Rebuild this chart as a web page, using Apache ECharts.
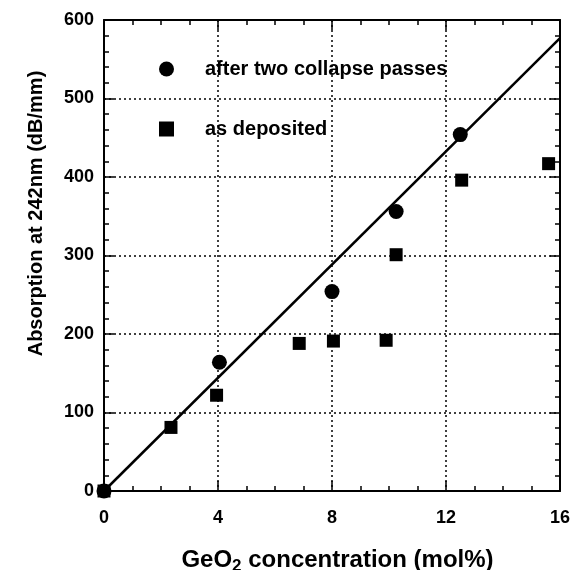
<!DOCTYPE html>
<html>
<head>
<meta charset="utf-8">
<title>Absorption vs GeO2</title>
<script src="https://cdn.jsdelivr.net/npm/echarts@6/dist/echarts.min.js"></script>
<style>
  html, body { margin: 0; padding: 0; background: #fff; }
  #chart { width: 585px; height: 570px; }
</style>
</head>
<body>
<div id="chart"></div>
<script>
// 数据
const xTicks = [0, 4, 8, 12, 16];
const yTicks = [0, 100, 200, 300, 400, 500, 600];

// after two collapse passes
const collapsedConc = [0, 4.05, 8.0, 10.25, 12.5];
const collapsedAbs = [0, 164, 254, 356, 454];

// as deposited
const depositedConc = [0, 2.35, 3.95, 6.85, 8.05, 9.9, 10.25, 12.55, 15.6];
const depositedAbs = [0, 81, 122, 188, 191, 192, 301, 396, 417];

// fitted line
const fitConc = [0, 16];
const fitAbs = [0, 577];

const pairs = (xs, ys) => xs.map((x, i) => [x, ys[i]]);

const FONT = "Liberation Sans";
const black = "#000";

const chart = echarts.init(document.getElementById("chart"), null, { renderer: "canvas" });

// 公共轴样式
const axisBase = {
  axisLine: { show: true, onZero: false, lineStyle: { color: black, width: 2 } },
  axisTick: { show: true, inside: true, length: 10, lineStyle: { color: black, width: 1.5 } },
  minorTick: { show: true, length: 5, lineStyle: { color: black, width: 1.5 } },
};

const option = {
  backgroundColor: "#fff",
  animation: false,
  // v6: 不要自动收缩网格
  grid: { left: 104, right: 25, top: 20, bottom: 79, outerBoundsMode: "none" },
  legend: {
    orient: "vertical",
    left: 154,
    top: 54,
    itemGap: 40,
    itemWidth: 15,
    itemHeight: 15,
    textStyle: {
      fontFamily: FONT,
      fontWeight: "bold",
      fontSize: 20,
      lineHeight: 20,
      color: black,
      padding: [0, 0, 0, 26],
    },
    data: [
      { name: "after two collapse passes", icon: "circle" },
      { name: "as deposited", icon: "rect" },
    ],
  },
  xAxis: [
    {
      ...axisBase,
      type: "value",
      position: "bottom",
      min: xTicks[0],
      max: xTicks[xTicks.length - 1],
      interval: 4,
      minorTick: { ...axisBase.minorTick, splitNumber: 4 },
      splitLine: { show: true, lineStyle: { color: black, type: [2, 3], width: 1.5 } },
      axisLabel: {
        margin: 18,
        color: black,
        fontFamily: FONT,
        fontWeight: "bold",
        fontSize: 18,
      },
      name: "{a|GeO}{s|2}{a| concentration (mol%)}",
      nameLocation: "middle",
      nameGap: 55,
      nameTextStyle: {
        color: black,
        padding: [0, 0, 0, 11],
        rich: {
          a: { fontFamily: FONT, fontWeight: "bold", fontSize: 24, color: black, lineHeight: 28 },
          s: { fontFamily: FONT, fontWeight: "bold", fontSize: 17, color: black, padding: [12, 0, 0, 0] },
        },
      },
    },
    {
      ...axisBase,
      type: "value",
      position: "top",
      min: xTicks[0],
      max: xTicks[xTicks.length - 1],
      interval: 4,
      minorTick: { ...axisBase.minorTick, splitNumber: 4 },
      splitLine: { show: false },
      axisLabel: { show: false },
    },
  ],
  yAxis: [
    {
      ...axisBase,
      type: "value",
      position: "left",
      min: yTicks[0],
      max: yTicks[yTicks.length - 1],
      interval: 100,
      minorTick: { ...axisBase.minorTick, splitNumber: 5 },
      splitLine: { show: true, lineStyle: { color: black, type: [2, 3], width: 1.5 } },
      axisLabel: {
        margin: 10,
        color: black,
        fontFamily: FONT,
        fontWeight: "bold",
        fontSize: 18,
      },
      name: "Absorption at 242nm (dB/mm)",
      nameLocation: "middle",
      nameGap: 58,
      nameTextStyle: {
        color: black,
        fontFamily: FONT,
        fontWeight: "bold",
        fontSize: 20,
        padding: [0, 0, 0, 84],
      },
    },
    {
      ...axisBase,
      type: "value",
      position: "right",
      min: yTicks[0],
      max: yTicks[yTicks.length - 1],
      interval: 100,
      minorTick: { ...axisBase.minorTick, splitNumber: 5 },
      splitLine: { show: false },
      axisLabel: { show: false },
    },
  ],
  series: [
    {
      name: "fit",
      type: "line",
      data: pairs(fitConc, fitAbs),
      showSymbol: false,
      lineStyle: { color: black, width: 2.5 },
      z: 1,
    },
    {
      name: "after two collapse passes",
      type: "scatter",
      symbol: "circle",
      symbolSize: 15,
      itemStyle: { color: black, opacity: 1 },
      data: pairs(collapsedConc, collapsedAbs),
      z: 3,
    },
    {
      name: "as deposited",
      type: "scatter",
      symbol: "rect",
      symbolSize: 13,
      itemStyle: { color: black, opacity: 1 },
      data: pairs(depositedConc, depositedAbs),
      z: 3,
    },
  ],
};

chart.setOption(option);
</script>
</body>
</html>
